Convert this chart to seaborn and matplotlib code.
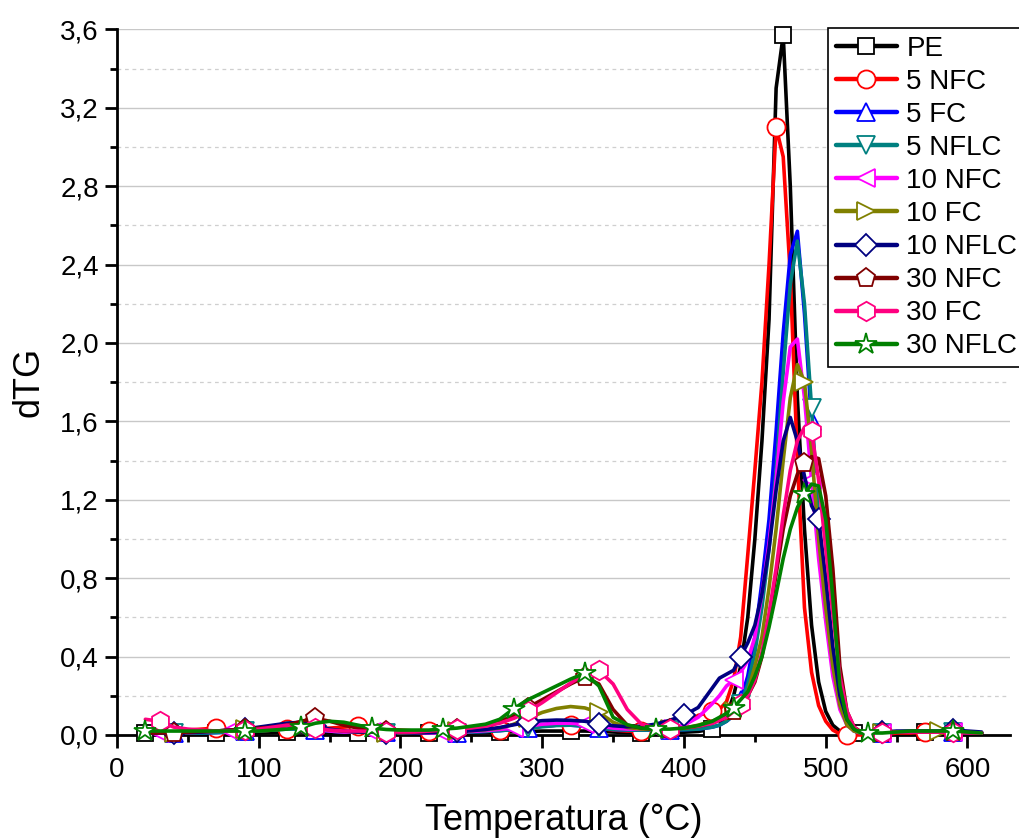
import numpy as np
import pandas as pd
import matplotlib
matplotlib.use("Agg")
import matplotlib.pyplot as plt
from matplotlib.lines import Line2D
from matplotlib.ticker import MultipleLocator, FuncFormatter
import seaborn as sns

# ---------------- data ----------------
temperature = [20, 30, 40, 50, 60, 70, 80, 90, 100, 110, 120, 130, 140, 150, 160, 170, 180, 190, 200, 210,
               220, 230, 240, 250, 260, 270, 280, 290, 300, 310, 320, 330, 340, 350, 360, 370, 380, 390, 400, 410, 420,
               425, 430, 435, 440, 445, 450, 455, 460, 465, 470, 475, 480, 485, 490, 495, 500, 505, 510, 515, 520, 525, 530,
               540, 550, 560, 570, 580, 590, 600, 610]

pe = [0.012, 0.01, 0.01, 0.01, 0.01, 0.01, 0.01, 0.01, 0.01, 0.012, 0.015, 0.015, 0.012, 0.01, 0.01, 0.01, 0.01, 0.01, 0.01, 0.01,
      0.01, 0.01, 0.01, 0.01, 0.012, 0.014, 0.016, 0.018, 0.02, 0.02, 0.02, 0.02, 0.018, 0.015, 0.012, 0.012, 0.012, 0.012, 0.014, 0.018, 0.03,
      0.06, 0.1, 0.2, 0.35, 0.6, 1.0, 1.5, 2.12, 3.3, 3.57, 2.8, 1.72, 1.05, 0.56, 0.27, 0.12, 0.05, 0.02, 0.01, 0.01, 0.01, 0.01,
      0.01, 0.01, 0.01, 0.015, 0.01, 0.01, 0.01, 0.01]

nfc5 = [0.02, 0.02, 0.02, 0.025, 0.03, 0.035, 0.03, 0.025, 0.02, 0.025, 0.03, 0.03, 0.03, 0.035, 0.04, 0.045, 0.04, 0.03, 0.025, 0.02,
        0.02, 0.02, 0.02, 0.02, 0.022, 0.025, 0.03, 0.035, 0.045, 0.05, 0.05, 0.045, 0.035, 0.025, 0.02, 0.02, 0.02, 0.025, 0.05, 0.1, 0.12,
        0.13, 0.17, 0.28, 0.5, 0.92, 1.35, 1.8, 2.4, 3.1, 2.95, 2.35, 1.4, 0.65, 0.32, 0.15, 0.07, 0.025, 0.005, 0.0, 0.0, 0.0, 0.0,
        0.0, 0.01, 0.01, 0.015, 0.01, 0.01, 0.01, 0.01]

fc5 = [0.01, 0.01, 0.01, 0.01, 0.01, 0.012, 0.015, 0.02, 0.025, 0.03, 0.035, 0.03, 0.025, 0.02, 0.015, 0.015, 0.015, 0.015, 0.012, 0.01,
       0.01, 0.01, 0.012, 0.015, 0.018, 0.022, 0.028, 0.035, 0.045, 0.05, 0.05, 0.045, 0.035, 0.028, 0.025, 0.025, 0.025, 0.025, 0.027, 0.03, 0.04,
       0.05, 0.07, 0.1, 0.18, 0.3, 0.5, 0.78, 1.1, 1.55, 2.05, 2.45, 2.57, 2.15, 1.6, 1.05, 0.65, 0.35, 0.15, 0.06, 0.02, 0.01, 0.01,
       0.01, 0.015, 0.015, 0.015, 0.015, 0.015, 0.012, 0.01]

nflc5 = [0.01, 0.01, 0.01, 0.01, 0.01, 0.012, 0.015, 0.018, 0.02, 0.025, 0.03, 0.03, 0.025, 0.02, 0.015, 0.015, 0.015, 0.012, 0.01, 0.01,
         0.01, 0.01, 0.012, 0.015, 0.018, 0.022, 0.028, 0.035, 0.042, 0.048, 0.05, 0.045, 0.035, 0.028, 0.025, 0.025, 0.025, 0.025, 0.027, 0.03, 0.04,
         0.05, 0.07, 0.1, 0.16, 0.26, 0.42, 0.65, 0.95, 1.35, 1.85, 2.3, 2.52, 2.2, 1.67, 1.1, 0.68, 0.38, 0.17, 0.07, 0.02, 0.01, 0.01,
         0.01, 0.015, 0.015, 0.015, 0.015, 0.015, 0.012, 0.01]

nfc10 = [0.01, 0.01, 0.01, 0.012, 0.015, 0.02, 0.02, 0.025, 0.03, 0.035, 0.045, 0.04, 0.03, 0.02, 0.015, 0.015, 0.015, 0.012, 0.01, 0.01,
         0.01, 0.012, 0.015, 0.018, 0.022, 0.028, 0.035, 0.045, 0.055, 0.06, 0.06, 0.055, 0.045, 0.035, 0.03, 0.03, 0.03, 0.032, 0.05, 0.09, 0.16,
         0.2, 0.25, 0.28, 0.32, 0.38, 0.5, 0.72, 0.98, 1.3, 1.7, 1.98, 2.02, 1.72, 1.3, 0.9, 0.58, 0.3, 0.13, 0.05, 0.02, 0.01, 0.01,
         0.01, 0.015, 0.015, 0.015, 0.015, 0.015, 0.012, 0.01]

fc10 = [0.01, 0.01, 0.01, 0.012, 0.015, 0.02, 0.025, 0.03, 0.035, 0.045, 0.06, 0.055, 0.04, 0.025, 0.02, 0.015, 0.015, 0.012, 0.01, 0.01,
        0.015, 0.018, 0.02, 0.022, 0.027, 0.035, 0.055, 0.085, 0.115, 0.135, 0.145, 0.138, 0.115, 0.065, 0.038, 0.03, 0.03, 0.03, 0.035, 0.05, 0.07,
        0.085, 0.1, 0.12, 0.15, 0.22, 0.35, 0.5, 0.75, 1.05, 1.4, 1.72, 1.89, 1.8, 1.45, 1.0, 0.65, 0.35, 0.15, 0.05, 0.02, 0.01, 0.01,
        0.01, 0.015, 0.02, 0.02, 0.02, 0.02, 0.015, 0.01]

nflc10 = [0.01, 0.01, 0.01, 0.012, 0.015, 0.02, 0.025, 0.03, 0.04, 0.05, 0.06, 0.065, 0.045, 0.03, 0.02, 0.015, 0.015, 0.012, 0.012, 0.01,
          0.012, 0.015, 0.018, 0.022, 0.028, 0.038, 0.052, 0.065, 0.073, 0.076, 0.075, 0.07, 0.058, 0.047, 0.042, 0.045, 0.055, 0.075, 0.1, 0.14, 0.24,
          0.29, 0.31, 0.33, 0.4, 0.47, 0.56, 0.72, 0.95, 1.25, 1.5, 1.62, 1.5, 1.32, 1.17, 1.1, 0.8, 0.45, 0.2, 0.08, 0.03, 0.015, 0.015,
          0.015, 0.02, 0.02, 0.02, 0.02, 0.025, 0.02, 0.015]

nfc30 = [0.01, 0.01, 0.012, 0.015, 0.018, 0.02, 0.025, 0.03, 0.035, 0.04, 0.05, 0.07, 0.085, 0.07, 0.05, 0.035, 0.025, 0.02, 0.015, 0.015,
         0.02, 0.025, 0.03, 0.038, 0.048, 0.068, 0.1, 0.14, 0.18, 0.22, 0.26, 0.295, 0.26, 0.13, 0.05, 0.035, 0.03, 0.03, 0.035, 0.045, 0.06,
         0.075, 0.09, 0.12, 0.15, 0.2, 0.27, 0.4, 0.6, 0.82, 1.05, 1.22, 1.33, 1.39, 1.42, 1.41, 1.22, 0.85, 0.35, 0.12, 0.04, 0.015, 0.01,
         0.01, 0.015, 0.015, 0.015, 0.015, 0.015, 0.012, 0.01]

fc30 = [0.08, 0.07, 0.04, 0.03, 0.025, 0.02, 0.02, 0.025, 0.03, 0.04, 0.05, 0.045, 0.035, 0.025, 0.02, 0.02, 0.018, 0.015, 0.015, 0.015,
        0.02, 0.025, 0.03, 0.036, 0.045, 0.06, 0.085, 0.12, 0.165, 0.215, 0.265, 0.31, 0.33, 0.26, 0.13, 0.055, 0.035, 0.03, 0.035, 0.045, 0.06,
        0.075, 0.09, 0.12, 0.16, 0.2, 0.28, 0.42, 0.62, 0.85, 1.12, 1.35, 1.5, 1.57, 1.55, 1.3, 0.95, 0.62, 0.3, 0.12, 0.04, 0.01, 0.01,
        0.01, 0.015, 0.015, 0.015, 0.015, 0.015, 0.012, 0.01]

nflc30 = [0.02, 0.02, 0.02, 0.02, 0.02, 0.02, 0.02, 0.02, 0.02, 0.025, 0.03, 0.04, 0.06, 0.07, 0.065, 0.05, 0.035, 0.028, 0.025, 0.025,
          0.025, 0.03, 0.035, 0.045, 0.055, 0.08, 0.135, 0.18, 0.215, 0.25, 0.285, 0.315, 0.25, 0.09, 0.052, 0.035, 0.03, 0.03, 0.035, 0.048, 0.07,
          0.09, 0.11, 0.14, 0.18, 0.22, 0.3, 0.4, 0.55, 0.72, 0.9, 1.05, 1.16, 1.23, 1.28, 1.27, 1.1, 0.7, 0.25, 0.08, 0.03, 0.01, 0.01,
          0.01, 0.015, 0.02, 0.02, 0.02, 0.02, 0.015, 0.01]

series_names = ["PE", "5 NFC", "5 FC", "5 NFLC", "10 NFC", "10 FC", "10 NFLC", "30 NFC", "30 FC", "30 NFLC"]
series_values = [pe, nfc5, fc5, nflc5, nfc10, fc10, nflc10, nfc30, fc30, nflc30]

# ---------------- styles ----------------
colors = ["#000000", "#FF0000", "#0000FF", "#008080", "#FF00FF", "#808000", "#000080", "#800000", "#FF0080", "#008000"]
markers = ["s", "o", "^", "v", "<", ">", "D", "p", "h", "*"]
msizes = [12, 13, 13, 13, 13, 13, 11, 14, 14, 16]
marker_temps = [
    [20, 70, 120, 170, 220, 270, 320, 370, 420, 470, 520, 570],
    [70, 120, 170, 220, 270, 320, 370, 420, 465, 515, 570],
    [40, 90, 140, 190, 240, 290, 340, 390, 440, 490, 540, 590],
    [40, 90, 140, 190, 240, 290, 340, 390, 440, 490, 540, 590],
    [30, 80, 130, 180, 230, 280, 330, 380, 435, 490, 540, 590],
    [40, 90, 140, 190, 240, 290, 340, 390, 435, 485, 540, 580],
    [40, 90, 140, 190, 240, 290, 340, 400, 440, 495, 540, 590],
    [40, 90, 140, 190, 240, 290, 330, 390, 435, 485, 540, 590],
    [30, 90, 140, 190, 240, 290, 340, 390, 440, 490, 540, 590],
    [20, 90, 130, 180, 230, 280, 330, 380, 435, 485, 530, 590],
]

frames = [pd.DataFrame({"T": temperature, "dTG": v, "sample": n}) for n, v in zip(series_names, series_values)]
df = pd.concat(frames, ignore_index=True)

sns.set_style("white")
plt.rcParams["font.family"] = ["Liberation Sans", "DejaVu Sans"]
plt.rcParams["text.color"] = "black"
plt.rcParams["axes.labelcolor"] = "black"
plt.rcParams["xtick.color"] = "black"
plt.rcParams["ytick.color"] = "black"

fig = plt.figure(figsize=(10.2, 8.39), dpi=100)
ax = fig.add_axes([0.1147, 0.124, 0.8755, 0.841])

handles = []
for i, name in enumerate(series_names):
    sub = df[df["sample"] == name]
    idx = [temperature.index(t) for t in marker_temps[i]]
    sns.lineplot(data=sub, x="T", y="dTG", ax=ax, color=colors[i], lw=2.6,
                 marker=markers[i], markersize=msizes[i], markerfacecolor="white",
                 markeredgecolor=colors[i], markeredgewidth=1.3, markevery=idx,
                 legend=False, zorder=3 + i, clip_on=False)
    handles.append(Line2D([0], [0], color=colors[i], lw=3.2, marker=markers[i],
                          markersize=msizes[i], markerfacecolor="white",
                          markeredgecolor=colors[i], markeredgewidth=1.3, label=name))

ax.set_xlim(0, 630)
ax.set_ylim(0, 3.6)
ax.xaxis.set_major_locator(MultipleLocator(100))
ax.xaxis.set_minor_locator(MultipleLocator(50))
ax.yaxis.set_major_locator(MultipleLocator(0.4))
ax.yaxis.set_minor_locator(MultipleLocator(0.2))
ax.yaxis.set_major_formatter(FuncFormatter(lambda v, p: f"{v:.1f}".replace(".", ",")))
ax.xaxis.set_major_formatter(FuncFormatter(lambda v, p: f"{v:.0f}"))

ax.grid(False)
ax.yaxis.grid(True, which="major", color="#c8c8c8", lw=1.0, ls="-", zorder=0)
ax.yaxis.grid(True, which="minor", color="#cfcfcf", lw=0.9, ls=(0, (3, 3)), zorder=0)
ax.set_axisbelow(True)

for s in ["top", "right"]:
    ax.spines[s].set_visible(False)
for s in ["left", "bottom"]:
    ax.spines[s].set_color("black")
    ax.spines[s].set_linewidth(2.0)
    ax.spines[s].set_zorder(2)

ax.tick_params(which="major", direction="out", length=9, width=2, colors="black", labelsize=20, pad=4)
ax.tick_params(axis="x", which="major", pad=7)
ax.tick_params(which="minor", direction="out", length=5, width=2, colors="black")
ax.tick_params(axis="x", which="both", bottom=True)
ax.tick_params(axis="y", which="both", left=True)

ax.set_xlabel("Temperatura (°C)", fontsize=26, labelpad=14, color="black")
ax.set_ylabel("dTG", fontsize=26, labelpad=10, color="black")

leg = ax.legend(handles=handles, loc="upper left", bbox_to_anchor=(0.796, 1.002),
                frameon=True, fancybox=False, edgecolor="black", fontsize=20,
                handlelength=2.2, handletextpad=0.35, labelspacing=0.255,
                borderpad=0.28, borderaxespad=0.0, framealpha=1.0)
leg.get_frame().set_linewidth(1.2)
leg.set_zorder(20)
for t in leg.get_texts():
    t.set_color("black")

fig.savefig("out.png", dpi=100)
